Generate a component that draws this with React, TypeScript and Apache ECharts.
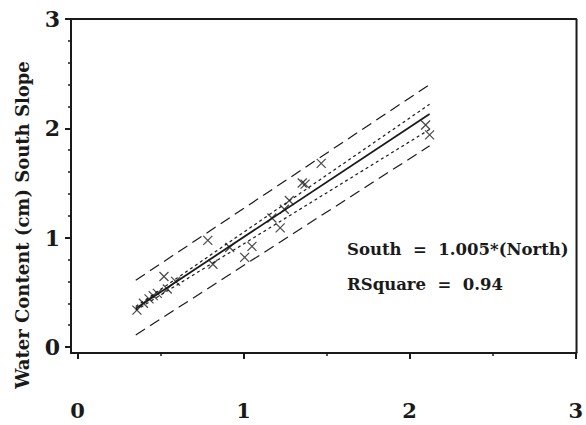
import React, { useEffect, useRef } from "react";
import * as echarts from "echarts";

// North slope (x) vs South slope (y) water content, cm
const northValues = [0.357, 0.396, 0.43, 0.455, 0.48, 0.52, 0.54, 0.59, 0.784, 0.815, 0.916, 1.006, 1.05, 1.17, 1.22, 1.245, 1.275, 1.353, 1.37, 1.467, 2.096, 2.12];
const southValues = [0.337, 0.4, 0.44, 0.47, 0.49, 0.645, 0.53, 0.6, 0.975, 0.757, 0.91, 0.82, 0.92, 1.18, 1.09, 1.26, 1.34, 1.5, 1.49, 1.68, 2.03, 1.94];

const fitLine = [[0.35, 0.352], [2.12, 2.13]];
const confUpper = [[0.35, 0.37], [2.12, 2.22]];
const confLower = [[0.35, 0.335], [2.12, 1.99]];
const predUpper = [[0.35, 0.61], [2.12, 2.4]];
const predLower = [[0.35, 0.11], [2.12, 1.84]];

const majorTicks = [0, 1, 2, 3];
const xMinorTicks = [0.5, 1.5, 2.5];
const yMinorTicks = [0.2, 0.4, 0.6, 0.8, 1.2, 1.4, 1.6, 1.8, 2.2, 2.4, 2.6, 2.8];

const yAxisTitle = "Water Content (cm) South Slope";
const equationText = "South  =  1.005*(North)";
const rsquareText = "RSquare  =  0.94";

const FONT = "'DejaVu Serif', 'Liberation Serif', serif";
const INK = "#1a1a1a";

const W = 586, H = 425;

export default function App() {
  const ref = useRef<HTMLDivElement>(null);
  useEffect(() => {
    if (!ref.current) return;
    const chart = echarts.init(ref.current, undefined, { renderer: "svg" });
    const xMin = -0.04, xMax = 3.005, yMin = -0.055, yMax = 3;
    const lineSeries = (data: number[][], type: any, width: number, clip = true) => ({
      type: "line",
      data,
      xAxisIndex: 0,
      yAxisIndex: 0,
      showSymbol: false,
      silent: true,
      clip,
      lineStyle: { color: INK, width, type },
    });
    const frameTopRight = [[xMin, yMax], [xMax, yMax], [xMax, yMin]];
    chart.setOption({
      animation: false,
      grid: { left: 71, right: 6, top: 19, bottom: 72 },
      xAxis: [
        {
          type: "value", min: xMin, max: xMax, position: "bottom",
          axisLine: { show: true, onZero: false, lineStyle: { color: INK, width: 2 } },
          axisTick: { show: true, customValues: majorTicks, length: 6, lineStyle: { color: INK, width: 2 } },
          axisLabel: {
            customValues: majorTicks, margin: 47, color: INK, lineHeight: 21,
            fontFamily: FONT, fontWeight: "bold", fontSize: 21,
          },
          splitLine: { show: false },
        },
        {
          type: "value", min: xMin, max: xMax, position: "bottom",
          axisLine: { show: false, onZero: false },
          axisTick: { show: true, customValues: xMinorTicks, length: 3, lineStyle: { color: INK, width: 1.5 } },
          axisLabel: { show: false },
          splitLine: { show: false },
        },
      ],
      yAxis: [
        {
          type: "value", min: yMin, max: yMax, position: "left",
          axisLine: { show: true, onZero: false, lineStyle: { color: INK, width: 2 } },
          axisTick: { show: true, customValues: majorTicks, length: 6, lineStyle: { color: INK, width: 2 } },
          axisLabel: {
            customValues: majorTicks, margin: 11, color: INK,
            fontFamily: FONT, fontWeight: "bold", fontSize: 22,
          },
          splitLine: { show: false },
        },
        {
          type: "value", min: yMin, max: yMax, position: "left",
          axisLine: { show: false, onZero: false },
          axisTick: { show: true, customValues: yMinorTicks, length: 3, lineStyle: { color: INK, width: 1.5 } },
          axisLabel: { show: false },
          splitLine: { show: false },
        },
      ],
      graphic: [
        {
          type: "text", x: 22, y: 225, rotation: Math.PI / 2,
          style: {
            text: yAxisTitle, fill: INK, font: `bold 18px ${FONT}`,
            textAlign: "center", textVerticalAlign: "middle",
          },
        },
        {
          type: "text", x: 347, y: 249,
          style: {
            text: equationText, fill: INK, font: `bold 16.5px ${FONT}`,
            textAlign: "left", textVerticalAlign: "middle",
          },
        },
        {
          type: "text", x: 347, y: 284,
          style: {
            text: rsquareText, fill: INK, font: `bold 16.5px ${FONT}`,
            textAlign: "left", textVerticalAlign: "middle",
          },
        },
      ],
      series: [
        lineSeries(frameTopRight, "solid", 2, false),
        lineSeries(predUpper, [11, 6], 1.2),
        lineSeries(predLower, [11, 6], 1.2),
        lineSeries(confUpper, [3, 3], 1.2),
        lineSeries(confLower, [3, 3], 1.2),
        lineSeries(fitLine, "solid", 1.8),
        {
          type: "scatter",
          xAxisIndex: 0,
          yAxisIndex: 0,
          data: northValues.map((x, i) => [x, southValues[i]]),
          symbol: "path://M0,0L10,10M10,0L0,10",
          symbolSize: 9,
          silent: true,
          itemStyle: { color: "none", borderColor: INK, borderWidth: 1.2 },
        },
      ],
    });
    return () => chart.dispose();
  }, []);
  return (
    <div
      ref={ref}
      style={{ position: "fixed", left: 0, top: 0, width: W, height: H, background: "#fff" }}
    />
  );
}
